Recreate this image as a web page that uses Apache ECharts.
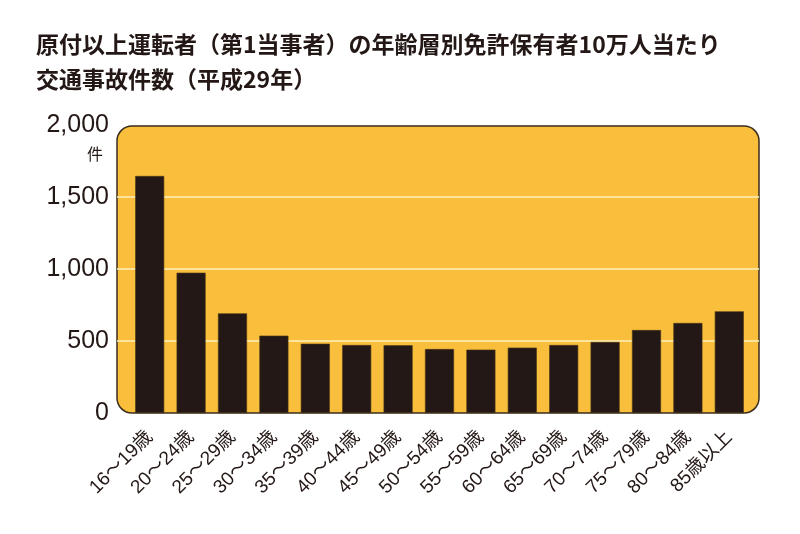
<!DOCTYPE html>
<html>
<head>
<meta charset="utf-8">
<script src="https://cdn.jsdelivr.net/npm/echarts@6/dist/echarts.min.js"></script>
<style>
  html, body { margin: 0; padding: 0; background: #fff; }
  #chart { width: 800px; height: 534px; }
</style>
</head>
<body>
<div id="chart"></div>
<script>
const titleLines = [
  '原付以上運転者（第1当事者）の年齢層別免許保有者10万人当たり',
  '交通事故件数（平成29年）'
];
const categories = [
  '16〜19歳', '20〜24歳', '25〜29歳', '30〜34歳', '35〜39歳',
  '40〜44歳', '45〜49歳', '50〜54歳', '55〜59歳', '60〜64歳',
  '65〜69歳', '70〜74歳', '75〜79歳', '80〜84歳', '85歳以上'
];
const accidents = [1646, 974, 692, 537, 481, 472, 470, 444, 440, 454, 472, 493, 576, 625, 706];
const yMin = 0;
const yMax = 2000;
const yStep = 500;
const unitLabel = '件';

const ink = '#231815';
const panel = '#F8BE3C';

const myChart = echarts.init(document.querySelector('#chart'));

myChart.setOption({
  animation: false,
  graphic: [
    {
      type: 'rect', z: -10,
      shape: { x: 117, y: 126, width: 642, height: 287, r: 15 },
      style: { fill: panel, stroke: '#3a2d1c', lineWidth: 1.5 }
    },
    {
      type: 'text', x: 36, y: 44,
      style: {
        text: titleLines[0], fill: ink, verticalAlign: 'middle',
        font: 'bold 23px "Noto Sans CJK JP"'
      }
    },
    {
      type: 'text', x: 36, y: 79,
      style: {
        text: titleLines[1], fill: ink, verticalAlign: 'middle',
        font: 'bold 23px "Noto Sans CJK JP"'
      }
    },
    {
      type: 'text', x: 103, y: 154,
      style: {
        text: unitLabel, fill: ink, align: 'right', verticalAlign: 'middle',
        font: '16px "Noto Sans CJK JP"'
      }
    }
  ],
  grid: [
    { left: 129, right: 50, top: 125, bottom: 121 },
    { left: 117, right: 41, top: 125, bottom: 121 }
  ],
  xAxis: [
    {
      type: 'category',
      gridIndex: 0,
      data: categories,
      axisLine: { show: false },
      axisTick: { show: false },
      axisLabel: {
        rotate: 45,
        margin: 21,
        interval: 0,
        color: ink,
        fontSize: 19,
        fontFamily: '"Liberation Sans", "Noto Sans CJK JP", sans-serif'
      }
    },
    { type: 'value', gridIndex: 1, min: 0, max: 1, show: false }
  ],
  yAxis: [
    {
      type: 'value',
      gridIndex: 0,
      min: yMin, max: yMax, interval: yStep,
      axisLine: { show: false },
      axisTick: { show: false },
      axisLabel: { show: false },
      splitLine: { show: false }
    },
    {
      type: 'value',
      gridIndex: 1,
      min: yMin, max: yMax, interval: yStep,
      axisLine: { show: false },
      axisTick: { show: false },
      axisLabel: {
        margin: 8,
        color: ink,
        fontSize: 25,
        fontFamily: '"Liberation Sans", sans-serif',
        formatter: v => v.toLocaleString('en-US')
      },
      splitLine: {
        show: true,
        showMinLine: false,
        showMaxLine: false,
        lineStyle: { color: '#FFF1BE', width: 1.5 }
      }
    }
  ],
  series: [
    {
      name: '交通事故件数',
      type: 'bar',
      xAxisIndex: 0,
      yAxisIndex: 0,
      barWidth: 29,
      data: accidents,
      itemStyle: { color: ink, borderColor: '#4a3618', borderWidth: 0.6 }
    }
  ]
});
</script>
</body>
</html>
